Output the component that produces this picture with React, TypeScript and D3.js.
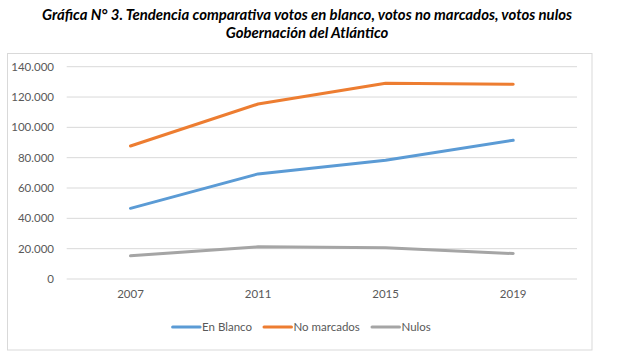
import React from "react";
import * as d3 from "d3";

const years = ["2007", "2011", "2015", "2019"];
const enBlanco = [46600, 69300, 78300, 91500];
const noMarcados = [87700, 115400, 129100, 128400];
const nulos = [15300, 21200, 20600, 16800];
const yTicks = [0, 20000, 40000, 60000, 80000, 100000, 120000, 140000];
const seriesNames = ["En Blanco", "No marcados", "Nulos"];
const seriesColors = ["#5B9BD5", "#ED7D31", "#A5A5A5"];

const W = 618;
const H = 355;
const FONT = "Lato, 'Open Sans', sans-serif";

export default function App() {
  const x = d3.scaleBand<string>().domain(years).range([66.7, 577]);
  const y = d3.scaleLinear().domain([0, 140000]).range([279, 66.7]);
  const line = d3
    .line<number>()
    .x((_, i) => (x(years[i]) as number) + x.bandwidth() / 2)
    .y((d) => y(d));
  const series = [enBlanco, noMarcados, nulos];
  const fmt = (v: number) =>
    v === 0 ? "0" : d3.format(",")(v).replace(/,/g, ".");
  const legendX = [172.6, 264, 372];

  return (
    <svg
      width={W}
      height={H}
      style={{ position: "absolute", left: 0, top: 0, background: "#fff" }}
      fontFamily={FONT}
    >
      <text
        x={307}
        y={20}
        textAnchor="middle"
        fontSize={14.9}
        fontWeight="bold"
        fontStyle="italic"
        fill="#000"
      >
        Gráfica N° 3. Tendencia comparativa votos en blanco, votos no marcados, votos nulos
      </text>
      <text
        x={307}
        y={38}
        textAnchor="middle"
        fontSize={14.9}
        fontWeight="bold"
        fontStyle="italic"
        fill="#000"
      >
        Gobernación del Atlántico
      </text>
      <rect x={7.5} y={53.5} width={584.5} height={296.5} fill="none" stroke="#d9d9d9" />
      {yTicks.map((t) => (
        <g key={t}>
          <line x1={66.7} x2={577} y1={y(t)} y2={y(t)} stroke="#d9d9d9" strokeWidth={1} />
          <text
            x={54}
            y={y(t)}
            dy="0.35em"
            textAnchor="end"
            fontSize={11.5}
            fill="#595959"
          >
            {fmt(t)}
          </text>
        </g>
      ))}
      {years.map((yr) => (
        <text
          key={yr}
          x={(x(yr) as number) + x.bandwidth() / 2}
          y={298}
          textAnchor="middle"
          fontSize={11.5}
          fill="#595959"
        >
          {yr}
        </text>
      ))}
      {series.map((s, i) => (
        <path
          key={i}
          d={line(s) as string}
          fill="none"
          stroke={seriesColors[i]}
          strokeWidth={3}
          strokeLinecap="round"
          strokeLinejoin="round"
        />
      ))}
      {seriesNames.map((n, i) => (
        <g key={n}>
          <line
            x1={legendX[i]}
            x2={legendX[i] + 27.5}
            y1={327}
            y2={327}
            stroke={seriesColors[i]}
            strokeWidth={3}
            strokeLinecap="round"
          />
          <text x={legendX[i] + 29.5} y={327} dy="0.35em" fontSize={11.5} fill="#595959">
            {n}
          </text>
        </g>
      ))}
    </svg>
  );
}
